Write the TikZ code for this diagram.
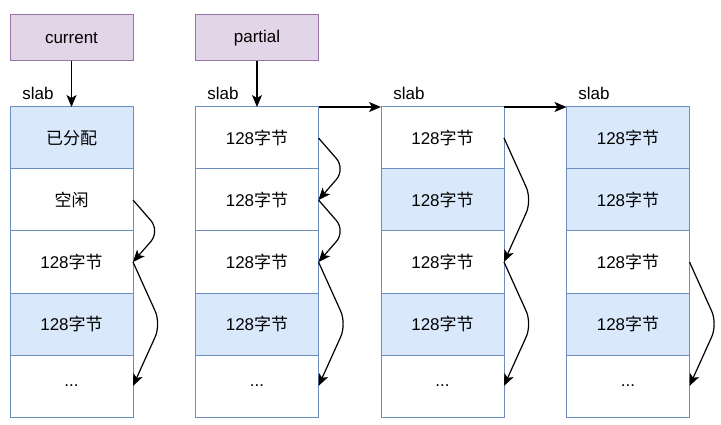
\documentclass[tikz,border=0pt]{standalone}
\usepackage{fontspec}
\setmainfont{Liberation Sans}
\newfontfamily\cjk{Noto Sans CJK SC}
\usetikzlibrary{arrows.meta}
\definecolor{ptrfill}{HTML}{E1D5E7}
\definecolor{ptrline}{HTML}{9673A6}
\definecolor{usedfill}{HTML}{DAE8FC}
\definecolor{cellline}{HTML}{6C8EBF}
\newcommand{\bytecell}{128{\cjk 字节}}

\begin{document}
\begin{tikzpicture}[x=1pt,y=-1pt,
	cell/.style={draw=cellline, line width=1pt, minimum width=123pt, minimum height=62pt, inner sep=0pt, outer sep=0pt, font=\fontsize{17}{20}\selectfont},
	used/.style={cell, fill=usedfill},
	free/.style={cell, fill=white},
	ptr/.style={cell, draw=ptrline, fill=ptrfill, minimum height=46pt},
	link/.style={-{Stealth[length=12pt,width=10pt,inset=3pt]}, line width=1.2pt},
	freelink/.style={link, rounded corners=14pt},
	lbl/.style={font=\fontsize{17}{20}\selectfont}]
	\useasboundingbox (0,0) rectangle (721,425);
	%\draw[help lines] (0,0) grid[step=50] (721,425);
	\node[ptr] (cur) at (71.5,38) {current};
	\node[ptr] (par) at (257,38) {partial};
	\node[lbl] (s1) at (38,93) {slab};
	\node[lbl] (s2) at (223,93) {slab};
	\node[lbl] (s3) at (409,93) {slab};
	\node[lbl] (s4) at (594,93) {slab};
	% slab 1
	\node[used] (c1r1) at (71.5,138) {{\cjk 已分配}};
	\node[free] (c1r2) at (71.5,200) {{\cjk 空闲}};
	\node[free] (c1r3) at (71.5,262) {\bytecell};
	\node[used] (c1r4) at (71.5,324) {\bytecell};
	\node[free] (c1r5) at (71.5,386) {...};
	% slab 2
	\node[free] (c2r1) at (257,138) {\bytecell};
	\node[free] (c2r2) at (257,200) {\bytecell};
	\node[free] (c2r3) at (257,262) {\bytecell};
	\node[used] (c2r4) at (257,324) {\bytecell};
	\node[free] (c2r5) at (257,386) {...};
	% slab 3
	\node[free] (c3r1) at (442.5,138) {\bytecell};
	\node[used] (c3r2) at (442.5,200) {\bytecell};
	\node[free] (c3r3) at (442.5,262) {\bytecell};
	\node[used] (c3r4) at (442.5,324) {\bytecell};
	\node[free] (c3r5) at (442.5,386) {...};
	% slab 4
	\node[used] (c4r1) at (628,138) {\bytecell};
	\node[used] (c4r2) at (628,200) {\bytecell};
	\node[free] (c4r3) at (628,262) {\bytecell};
	\node[used] (c4r4) at (628,324) {\bytecell};
	\node[free] (c4r5) at (628,386) {...};
	% pointers
	\draw[link] (cur.south) -- (c1r1.north);
	\draw[link] (par.south) -- (c2r1.north);
	\draw[link] (c2r1.north east) -- (c3r1.north west);
	\draw[link] (c3r1.north east) -- (c4r1.north west);
	% free lists
	\draw[freelink] (c1r2.east) -- ++(27,31) -- (c1r3.east);
	\draw[freelink] (c1r3.east) -- ++(28,62) -- (c1r5.east);
	\draw[freelink] (c2r1.east) -- ++(27,31) -- (c2r2.east);
	\draw[freelink] (c2r2.east) -- ++(27,31) -- (c2r3.east);
	\draw[freelink] (c2r3.east) -- ++(28,62) -- (c2r5.east);
	\draw[freelink] (c3r1.east) -- ++(28,62) -- (c3r3.east);
	\draw[freelink] (c3r3.east) -- ++(28,62) -- (c3r5.east);
	\draw[freelink] (c4r3.east) -- ++(28,62) -- (c4r5.east);
\end{tikzpicture}
\end{document}
